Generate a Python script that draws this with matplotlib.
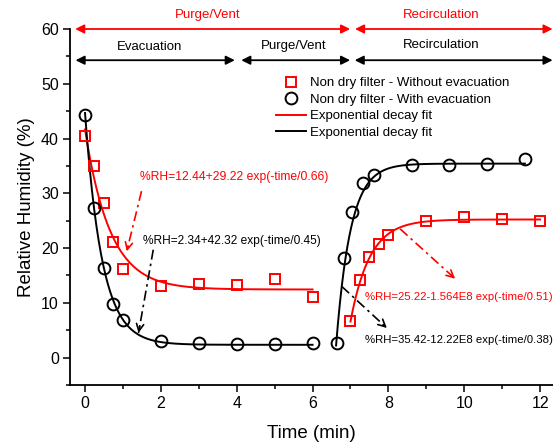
import numpy as np
import matplotlib
matplotlib.use('Agg')
import matplotlib.pyplot as plt
from matplotlib.ticker import MultipleLocator

plt.rcParams['font.family'] = ['Liberation Sans', 'DejaVu Sans']

# data
# without evacuation (red squares)
t_red_decay = [0, 0.25, 0.5, 0.75, 1.0, 2, 3, 4, 5, 6]
rh_red_decay = [40.5, 35.0, 28.2, 21.2, 16.2, 13.1, 13.4, 13.3, 14.4, 11.1]
t_red_recirc = [7.0, 7.25, 7.5, 7.75, 8.0, 9, 10, 11, 12]
rh_red_recirc = [6.6, 14.2, 18.4, 20.7, 22.4, 24.9, 25.7, 25.4, 24.9]

# with evacuation (black circles)
t_blk_decay = [0, 0.25, 0.5, 0.75, 1.0, 2, 3, 4, 5, 6]
rh_blk_decay = [44.3, 27.4, 16.4, 9.8, 6.9, 3.1, 2.6, 2.4, 2.4, 2.7]
t_blk_recirc = [6.64, 6.82, 7.05, 7.34, 7.61, 8.62, 9.6, 10.6, 11.6]
rh_blk_recirc = [2.6, 18.1, 26.6, 31.8, 33.3, 35.2, 35.2, 35.3, 36.3]

# fit parameters (from the annotations)
red_fit = (12.44, 29.22, 0.66)
blk_fit = (2.34, 42.32, 0.45)
red_rec_fit = (25.22, 0.51)
blk_rec_fit = (35.42, 12.22e8, 0.38)

RED = '#ff0000'

fig = plt.figure(figsize=(5.53, 4.45), dpi=100)
ax = fig.add_axes([70/553, 60/445, 483/553, 356/445])

# fit curves
t1 = np.linspace(0, 6, 200)
ax.plot(t1, red_fit[0] + red_fit[1]*np.exp(-t1/red_fit[2]), color=RED, lw=1.4)
ax.plot(t1, blk_fit[0] + blk_fit[1]*np.exp(-t1/blk_fit[2]), color='black', lw=1.4)

t2 = np.linspace(t_red_recirc[0], 12, 200)
amp = red_rec_fit[0] - rh_red_recirc[0]
ax.plot(t2, red_rec_fit[0] - amp*np.exp(-(t2 - t_red_recirc[0])/red_rec_fit[1]), color=RED, lw=1.4)
t3 = np.linspace(6.62, t_blk_recirc[-1], 200)
ax.plot(t3, blk_rec_fit[0] - blk_rec_fit[1]*np.exp(-t3/blk_rec_fit[2]), color='black', lw=1.4)

# markers
mk_red = dict(marker='s', ms=7.5, mfc='none', mec=RED, mew=1.4, ls='none')
mk_blk = dict(marker='o', ms=8.5, mfc='none', mec='black', mew=1.4, ls='none')
ax.plot(t_red_decay, rh_red_decay, **mk_red)
ax.plot(t_red_recirc, rh_red_recirc, **mk_red)
ax.plot(t_blk_decay, rh_blk_decay, **mk_blk)
ax.plot(t_blk_recirc, rh_blk_recirc, **mk_blk)

# legend handles
h1, = ax.plot([], [], **mk_red)
h2, = ax.plot([], [], **mk_blk)
h3, = ax.plot([], [], color=RED, lw=1.4)
h4, = ax.plot([], [], color='black', lw=1.4)
ax.legend([h1, h2, h3, h4],
          ['Non dry filter - Without evacuation', 'Non dry filter - With evacuation',
           'Exponential decay fit', 'Exponential decay fit'],
          loc='upper left', bbox_to_anchor=(276/553, 1 - 77/445), bbox_transform=fig.transFigure,
          frameon=False, fontsize=9.5, handlelength=2.3, handletextpad=0.25,
          labelspacing=0.32, borderpad=0, borderaxespad=0)

# phase arrows on top
def span(x0, x1, y, color):
    ax.annotate('', xy=(x1, y), xytext=(x0, y), annotation_clip=False,
                arrowprops=dict(arrowstyle='<|-|>', color=color, lw=1.3,
                                mutation_scale=13, shrinkA=0, shrinkB=0))

span(-0.26, 6.99, 60, RED)
span(7.12, 12.33, 60, RED)
span(-0.25, 3.95, 54.3, 'black')
span(4.12, 6.99, 54.3, 'black')
span(7.11, 12.33, 54.3, 'black')

ax.text(3.23, 62.5, 'Purge/Vent', color=RED, fontsize=9.5, ha='center', va='center', clip_on=False)
ax.text(9.39, 62.5, 'Recirculation', color=RED, fontsize=9.5, ha='center', va='center', clip_on=False)
ax.text(1.70, 56.7, 'Evacuation', fontsize=9.5, ha='center', va='center')
ax.text(5.49, 56.9, 'Purge/Vent', fontsize=9.5, ha='center', va='center')
ax.text(9.39, 57.0, 'Recirculation', fontsize=9.5, ha='center', va='center')

# fit equations with dash-dot arrows
def note(txt, pos, start, tip, color, size):
    ax.text(pos[0], pos[1], txt, color=color, fontsize=size, ha='left', va='center')
    ax.plot([start[0], tip[0]], [start[1], tip[1]], color=color, lw=1.2,
            ls=(0, (6, 2.5, 1.5, 2.5)))
    dx = tip[0] - start[0]
    dy = tip[1] - start[1]
    ax.annotate('', xy=tip, xytext=(tip[0] - 0.08*dx, tip[1] - 0.08*dy),
                arrowprops=dict(arrowstyle='->', color=color, lw=1.2,
                                mutation_scale=13, shrinkA=0, shrinkB=0))

note('%RH=12.44+29.22 exp(-time/0.66)', (1.45, 33.0), (1.49, 30.4), (1.10, 19.4), RED, 8.7)
note('%RH=2.34+42.32 exp(-time/0.45)', (1.52, 21.35), (1.80, 19.7), (1.41, 4.5), 'black', 8.6)
note('%RH=25.22-1.564E8 exp(-time/0.51)', (7.39, 11.1), (8.31, 23.5), (9.76, 14.4), RED, 8.2)
note('%RH=35.42-12.22E8 exp(-time/0.38)', (7.39, 3.2), (6.77, 13.0), (7.96, 5.4), 'black', 8.2)

# axes styling
ax.set_xlim(-0.396, 12.34)
ax.set_ylim(-5, 60)
ax.xaxis.set_major_locator(MultipleLocator(2))
ax.xaxis.set_minor_locator(MultipleLocator(1))
ax.yaxis.set_major_locator(MultipleLocator(10))
ax.yaxis.set_minor_locator(MultipleLocator(5))
ax.tick_params(which='major', direction='out', length=5, width=1.1, labelsize=11.5, pad=3)
ax.tick_params(which='minor', direction='out', length=3, width=1.1)
ax.spines['top'].set_visible(False)
ax.spines['right'].set_visible(False)
ax.spines['left'].set_linewidth(1.3)
ax.spines['bottom'].set_linewidth(1.3)

ax.set_xlabel('Time (min)', fontsize=13.5, labelpad=10)
ax.set_ylabel('Relative Humidity (%)', fontsize=13.5, labelpad=4)

fig.savefig('out.png', dpi=100)
